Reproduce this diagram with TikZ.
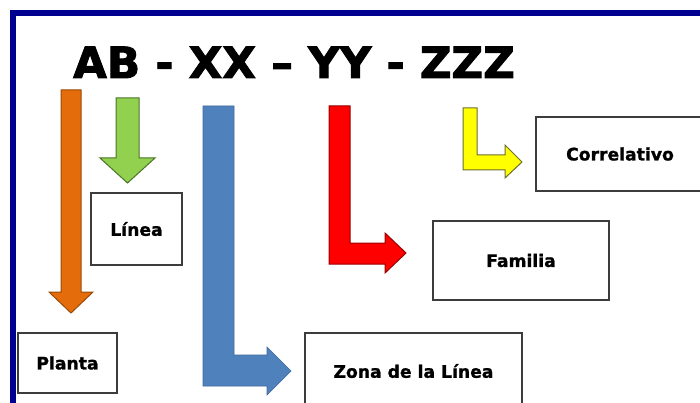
\documentclass[tikz,border=0pt]{standalone}
\usepackage{fontspec}
\setmainfont{DejaVu Sans}
\newfontfamily\titlefont[FakeBold=2.2]{DejaVu Sans Bold}
\newfontfamily\boxfont[FakeBold=1.2]{DejaVu Sans Bold}
\definecolor{framenavy}{HTML}{000090}
\definecolor{orangefill}{HTML}{E46C0A}
\definecolor{orangeline}{HTML}{9A4A08}
\definecolor{greenfill}{HTML}{92D050}
\definecolor{greenline}{HTML}{4A7426}
\definecolor{bluefill}{HTML}{4F81BD}
\definecolor{blueline}{HTML}{41699A}
\definecolor{redfill}{HTML}{FF0000}
\definecolor{redline}{HTML}{990000}
\definecolor{yellowfill}{HTML}{FFFF00}
\definecolor{yellowline}{HTML}{6E6E30}
\definecolor{boxline}{HTML}{3C3C3C}
\tikzset{
  labelbox/.style={draw=boxline, line width=1.3pt, fill=white, inner sep=0pt,
    font=\boxfont\fontsize{17.2}{20}\selectfont},
  blockarrow/.style={line width=1pt, line join=miter},
}
\begin{document}
\begin{tikzpicture}[x=1pt, y=-1pt]
  \useasboundingbox (0,0) rectangle (700,403);
  \clip (0,0) rectangle (700,403);
  \fill[white] (0,0) rectangle (700,403);
  % outer frame, running past the right and bottom edges
  \draw[framenavy, line width=6pt] (13,13) rectangle (720,430);

  % code title
  \node[anchor=base, inner sep=0pt, font=\titlefont\fontsize{43}{50}\selectfont]
    (code) at (294,78) {\scalebox{1.015}[1]{AB - XX – YY - ZZZ}};

  % label boxes
  \node[labelbox, minimum width=91pt, minimum height=72pt] (linea) at (136.5,229) {Línea};
  \node[labelbox, minimum width=99pt, minimum height=60pt] (planta) at (67.5,363) {Planta};
  \node[labelbox, minimum width=217pt, minimum height=76pt] (zona) at (413.5,371) {Zona de la Línea};
  \node[labelbox, minimum width=176pt, minimum height=79pt] (familia) at (521,260.5) {Familia};
  \node[labelbox, minimum width=168pt, minimum height=74pt] (correl) at (620,154) {Correlativo};

  % block arrows from each part of the code to its box
  \filldraw[blockarrow, fill=orangefill, draw=orangeline]
    (61,90) -- (81,90) -- (81,292) -- (93,292) -- (71,313) -- (49,292) -- (61,292) -- cycle;
  \filldraw[blockarrow, fill=greenfill, draw=greenline]
    (116,98) -- (139,98) -- (139,158) -- (155,158) -- (127.5,183) -- (100,158) -- (116,158) -- cycle;
  \filldraw[blockarrow, fill=bluefill, draw=blueline, line width=0.6pt]
    (203,106) -- (234,106) -- (234,355) -- (267,355) -- (267,347) -- (291,371)
    -- (267,395) -- (267,386) -- (203,386) -- cycle;
  \filldraw[blockarrow, fill=redfill, draw=redline]
    (329,106) -- (350,106) -- (350,243) -- (385,243) -- (385,233) -- (406,253)
    -- (385,273) -- (385,264) -- (329,264) -- cycle;
  \filldraw[blockarrow, fill=yellowfill, draw=yellowline]
    (463,108) -- (477,108) -- (477,155) -- (505,155) -- (505,145) -- (522,162)
    -- (505,178) -- (505,170) -- (463,170) -- cycle;
\end{tikzpicture}
\end{document}
